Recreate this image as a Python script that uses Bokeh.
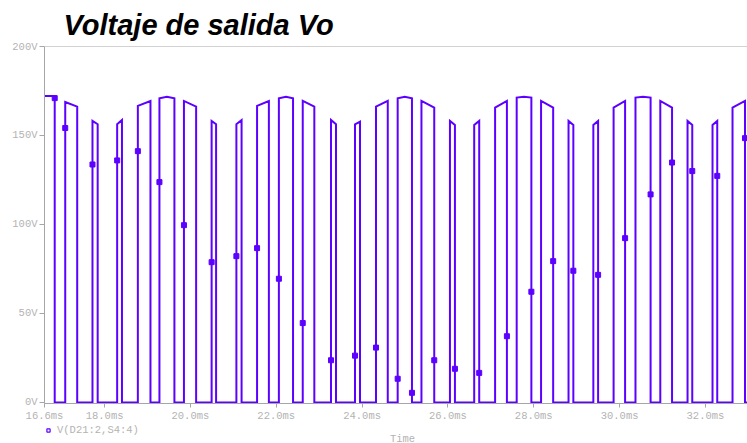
from bokeh.plotting import figure
from bokeh.layouts import column
from bokeh.models import (Range1d, FixedTicker, CustomJSTickFormatter, Span,
                          Legend, LegendItem, Title, Label)
from bokeh.embed import file_html
from bokeh.resources import INLINE

# Output voltage pulses: rising/falling edge times (ms) and the top of each pulse (V)
rise_ms = [16.50, 17.083, 17.718, 18.293, 18.775, 19.278, 19.849, 20.494, 21.071, 21.553,
           22.061, 22.617, 23.276, 23.835, 24.324, 24.829, 25.383, 26.047, 26.612, 27.099,
           27.602, 28.170, 28.810, 29.388, 29.860, 30.370, 30.948, 31.583, 32.165, 32.631]
fall_ms = [16.838, 17.362, 17.839, 18.405, 19.069, 19.627, 20.133, 20.598, 21.192, 21.828,
           22.391, 22.887, 23.392, 23.951, 24.598, 25.162, 25.681, 26.163, 26.729, 27.374,
           27.944, 28.452, 28.922, 29.499, 30.128, 30.722, 31.222, 31.693, 32.275, 32.922]
top_start_v = [172.2, 168.8, 158.2, 156.3, 166.6, 170.9, 169.4, 158.2, 156.3, 166.6,
               170.9, 169.4, 158.7, 156.3, 166.2, 170.9, 169.4, 158.2, 155.9, 165.7,
               171.3, 169.4, 158.2, 155.9, 165.7, 171.3, 169.4, 158.2, 155.9, 165.7]
top_peak_v = [None, None, None, None, None, 171.8, None, None, None, None,
              171.8, None, None, None, None, 171.8, None, None, None, None,
              171.8, None, None, None, None, 171.8, None, None, None, None]
top_end_v = [172.2, 166.2, 156.3, 158.7, 169.4, 170.9, 166.2, 156.3, 158.7, 169.4,
             170.9, 166.2, 156.3, 157.8, 169.4, 170.9, 165.7, 155.9, 158.2, 169.4,
             171.3, 165.7, 155.9, 158.2, 169.4, 171.3, 165.7, 155.9, 158.2, 169.4]
trace_end_ms = 33.1

# Data markers placed along the trace
marker_ms = [16.838, 17.083, 17.718, 18.293, 18.775, 19.278, 19.849, 20.494, 21.071, 21.553,
             22.061, 22.617, 23.276, 23.835, 24.324, 24.829, 25.162, 25.681, 26.163, 26.729,
             27.374, 27.944, 28.452, 28.922, 29.499, 30.128, 30.722, 31.222, 31.693, 32.275,
             32.922]
marker_v = [171.0, 154.2, 133.7, 136.0, 141.2, 123.8, 99.6, 78.8, 82.2, 86.7,
            69.5, 44.6, 23.7, 26.3, 30.8, 13.3, 5.4, 23.7, 18.9, 16.6,
            37.2, 62.2, 79.4, 74.0, 71.7, 92.3, 116.9, 134.8, 130.0, 127.3,
            148.5]

x_ticks_ms = [16.6, 18, 20, 22, 24, 26, 28, 30, 32]
y_ticks_v = [0, 50, 100, 150, 200]

TRACE = "#5c00ff"
AXIS = "#a6a6a6"
LABEL = "#b3b3b3"
MONO = "Liberation Mono"

# Assemble the stepped waveform from the edge list
xs, ys = [], []
for r, f, a, m, b in zip(rise_ms, fall_ms, top_start_v, top_peak_v, top_end_v):
    xs += [r, r]
    ys += [0, a]
    if m is not None:
        xs.append((r + f) / 2)
        ys.append(m)
    xs += [f, f]
    ys += [b, 0]
xs.append(trace_end_ms)
ys.append(0)

p = figure(width=747, height=424, output_backend="svg", toolbar_location=None,
           x_range=Range1d(16.6, 32.98), y_range=Range1d(-0.6, 200),
           min_border_left=44, min_border_right=0, min_border_top=46,
           min_border_bottom=19, background_fill_color="white",
           border_fill_color="white", outline_line_color=None)

p.title = Title(text="Voltaje de salida Vo", align="left", offset=19,
                text_font="Liberation Sans", text_font_size="29px",
                text_font_style="bold italic", text_color="black", standoff=12)

p.line(xs, ys, line_color=TRACE, line_width=2, line_join="miter")
p.scatter(marker_ms, marker_v, marker="square", size=5, fill_color=TRACE,
          line_color=TRACE)

p.grid.visible = False

# Axes
p.xaxis.ticker = FixedTicker(ticks=x_ticks_ms)
p.xaxis.formatter = CustomJSTickFormatter(code="return tick.toFixed(1) + 'ms';")
p.yaxis.ticker = FixedTicker(ticks=y_ticks_v)
p.yaxis.formatter = CustomJSTickFormatter(code="return tick.toFixed(0) + 'V';")
for ax in (p.xaxis, p.yaxis):
    ax.axis_line_color = AXIS
    ax.major_tick_line_color = AXIS
    ax.minor_tick_line_color = None
    ax.major_tick_in = 0
    ax.major_label_text_font = MONO
    ax.major_label_text_font_size = "10.5px"
    ax.major_label_text_color = LABEL
p.xaxis.major_tick_out = 4
p.xaxis.major_label_standoff = 2
p.yaxis.major_tick_out = 5
p.yaxis.major_label_standoff = 2

p.add_layout(Span(location=200, dimension="width", line_color=AXIS, line_width=1))

# Strip under the chart holding the trace key and the axis name
foot = figure(width=747, height=19, output_backend="svg", toolbar_location=None,
              x_axis_type=None, y_axis_type=None,
              x_range=Range1d(0, 1), y_range=Range1d(0, 1),
              min_border_left=44, min_border_right=0, min_border_top=0,
              min_border_bottom=0, background_fill_color="white",
              border_fill_color="white", outline_line_color=None)
foot.grid.visible = False

# the key glyph's own point sits outside the strip's range, only the legend shows it
key = foot.scatter([-5], [-5], marker="square", size=5, fill_color="white",
                   line_color=TRACE, line_width=1.2)
legend = Legend(items=[LegendItem(label="V(D21:2,S4:4)", renderers=[key])],
                location="top_left", orientation="horizontal",
                border_line_color=None, background_fill_alpha=0,
                padding=0, margin=0, spacing=0,
                glyph_width=8, glyph_height=8, label_standoff=5, label_height=8,
                label_text_font=MONO, label_text_font_size="10.5px",
                label_text_color=LABEL)
foot.add_layout(legend)

foot.add_layout(Label(x=358, y=5, x_units="screen", y_units="screen", text="Time",
                      text_align="center", text_baseline="middle", text_font=MONO,
                      text_font_size="10.5px", text_color=LABEL))

layout = column(p, foot, spacing=0)
open("out.html", "w").write(file_html(layout, INLINE))
